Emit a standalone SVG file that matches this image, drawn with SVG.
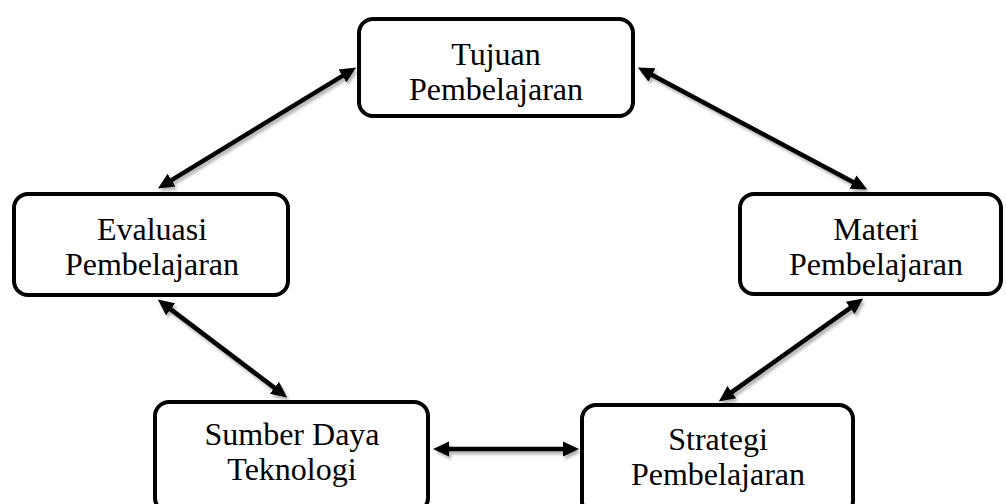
<svg xmlns="http://www.w3.org/2000/svg" width="1006" height="504" viewBox="0 0 1006 504">
  <style>
    .box { fill: #ffffff; stroke: #000000; stroke-width: 4; }
    .lbl { font-family: "Liberation Serif", "Times New Roman", serif; font-size: 32px; fill: #000000; text-anchor: middle; }
    .conn { fill: none; stroke: #000000; stroke-width: 4.5; marker-start: url(#ah); marker-end: url(#ah); }
  </style>
  <defs>
    <marker id="ah" markerUnits="userSpaceOnUse" markerWidth="18" markerHeight="18" viewBox="0 -9 18 18" refX="1" refY="0" orient="auto-start-reverse">
      <path d="M0,-7.5 L16,0 L0,7.5 z" fill="#000000"/>
    </marker>
    <filter id="sh" x="-10%" y="-10%" width="120%" height="130%">
      <feDropShadow dx="2" dy="3" stdDeviation="1.5" flood-color="#000000" flood-opacity="0.3"/>
    </filter>
  </defs>
  <rect width="1006" height="504" fill="#ffffff"/>
  <g id="connectors" filter="url(#sh)">
    <path class="conn" d="M343.3,75.3 L170.7,180.7"/>
    <path class="conn" d="M651.1,74.5 L853.9,182.5"/>
    <path class="conn" d="M169.8,308.6 L275.2,388.4"/>
    <path class="conn" d="M851,307.3 L731,392.7"/>
    <path class="conn" d="M448,449 L564,449"/>
  </g>
  <g id="tujuan">
    <rect class="box" x="359" y="19" width="274" height="97" rx="14"/>
    <text class="lbl" x="496" y="65">Tujuan</text>
    <text class="lbl" x="496" y="100">Pembelajaran</text>
  </g>
  <g id="evaluasi">
    <rect class="box" x="14" y="194" width="274" height="101" rx="14"/>
    <text class="lbl" x="152" y="240">Evaluasi</text>
    <text class="lbl" x="152" y="275">Pembelajaran</text>
  </g>
  <g id="materi">
    <rect class="box" x="740" y="194" width="261" height="100" rx="14"/>
    <text class="lbl" x="876" y="240">Materi</text>
    <text class="lbl" x="876" y="275">Pembelajaran</text>
  </g>
  <g id="sumber">
    <rect class="box" x="155" y="402" width="273" height="110" rx="14"/>
    <text class="lbl" x="292" y="445">Sumber Daya</text>
    <text class="lbl" x="292" y="480">Teknologi</text>
  </g>
  <g id="strategi">
    <rect class="box" x="582" y="405" width="271" height="110" rx="14"/>
    <text class="lbl" x="718" y="450">Strategi</text>
    <text class="lbl" x="718" y="485">Pembelajaran</text>
  </g>
</svg>
